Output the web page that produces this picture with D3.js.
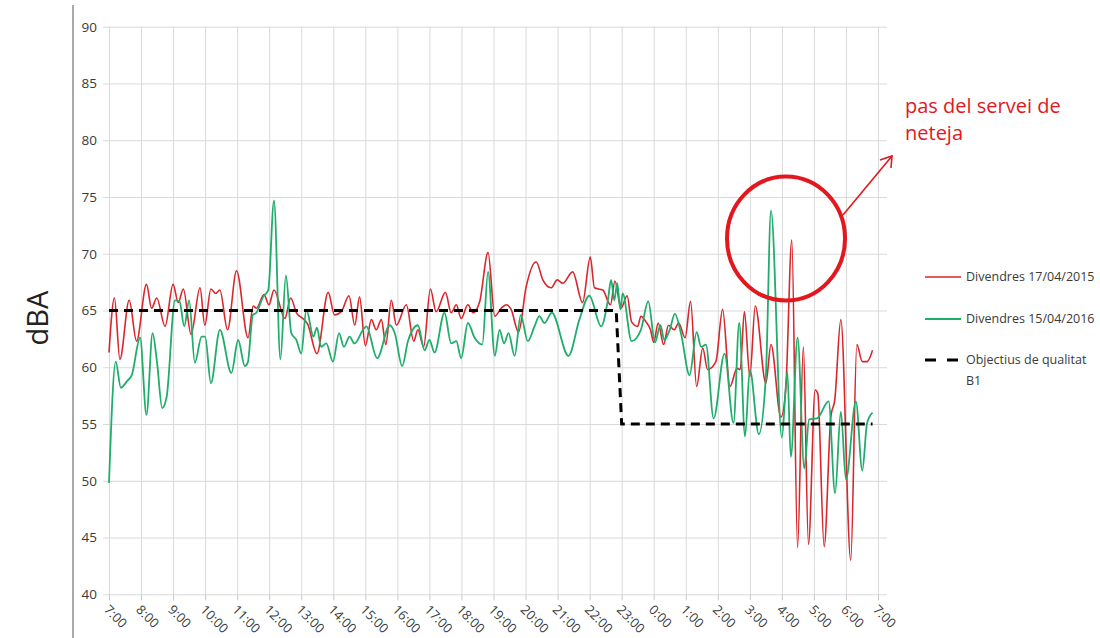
<!DOCTYPE html>
<html>
<head>
<meta charset="utf-8">
<script src="https://cdn.jsdelivr.net/npm/d3@7"></script>
<style>
  body { margin: 0; background: #fff; }
  text { font-family: "Open Sans", "DejaVu Sans", sans-serif; }
</style>
</head>
<body>
<div id="chart"></div>
<script>
// hours counted from 7:00 (7) to 7:00 next day (31)
var hourLabels = ["7:00","8:00","9:00","10:00","11:00","12:00","13:00","14:00","15:00","16:00","17:00","18:00","19:00","20:00","21:00","22:00","23:00","0:00","1:00","2:00","3:00","4:00","5:00","6:00","7:00"];
var yTicks = [40, 45, 50, 55, 60, 65, 70, 75, 80, 85, 90];

// Divendres 17/04/2015
var redHours = [7.00,7.17,7.34,7.63,7.86,8.17,8.33,8.49,8.75,9.00,9.16,9.32,9.56,9.84,9.99,10.18,10.33,10.46,10.70,10.98,11.34,11.50,11.60,11.84,11.99,12.15,12.49,12.67,12.85,13.05,13.20,13.49,13.84,14.04,14.25,14.49,14.67,14.82,15.00,15.19,15.34,15.50,15.64,15.81,15.97,16.28,16.51,16.64,16.82,17.03,17.21,17.50,17.68,17.84,17.99,18.20,18.36,18.57,18.83,19.04,19.24,19.40,19.55,19.78,20.02,20.33,20.54,20.80,20.99,21.16,21.47,21.78,22.02,22.15,22.41,22.65,22.79,22.98,23.17,23.31,23.50,23.60,23.76,23.90,24.00,24.14,24.31,24.46,24.64,24.78,24.98,25.15,25.34,25.53,25.68,25.94,26.15,26.38,26.60,26.70,26.83,27.00,27.17,27.50,27.66,27.97,28.12,28.31,28.49,28.67,28.83,29.04,29.12,29.32,29.53,29.65,29.84,30.15,30.34,30.51,30.66,30.83];
var redValues = [61.3,66.1,60.7,65.9,62.3,67.3,65.2,66.1,63.6,67.3,65.7,66.9,62.9,67.0,63.7,66.9,66.5,66.8,63.3,68.5,62.6,65.4,65.2,66.4,65.5,66.8,64.3,66.1,64.8,64.3,63.8,61.2,66.6,64.6,64.9,66.3,63.7,66.2,61.9,64.2,63.3,64.2,62.0,65.9,63.7,65.5,62.3,63.3,61.8,66.9,64.9,66.6,64.8,65.5,64.3,65.5,64.8,65.8,70.1,64.5,65.2,65.5,65.1,63.1,67.1,69.3,67.7,67.0,67.7,67.4,68.4,65.7,69.7,67.0,66.8,65.5,67.6,65.2,66.3,64.0,63.6,64.5,64.0,63.3,62.2,63.9,62.0,63.7,63.3,63.9,62.6,65.8,58.3,61.7,59.8,60.5,65.1,58.3,59.9,59.8,64.9,59.2,65.4,58.6,62.0,55.6,58.0,71.2,44.1,61.8,44.4,58.0,57.7,44.2,55.7,57.1,64.2,43.0,62.0,60.5,60.5,61.5];

// Divendres 15/04/2016
var greenHours = [7.00,7.21,7.37,7.57,7.71,7.97,8.17,8.36,8.50,8.66,8.80,9.06,9.20,9.35,9.50,9.68,9.89,10.00,10.18,10.46,10.82,11.03,11.24,11.33,11.49,11.60,11.81,11.97,12.15,12.35,12.52,12.69,12.85,13.00,13.16,13.38,13.49,13.62,13.78,13.99,14.18,14.33,14.51,14.66,14.93,15.03,15.37,15.76,15.92,16.15,16.33,16.64,16.85,17.00,17.16,17.47,17.68,17.84,17.99,18.20,18.41,18.65,18.83,19.04,19.19,19.33,19.47,19.66,19.85,20.07,20.28,20.43,20.59,20.82,21.34,21.68,21.99,22.36,22.57,22.67,22.77,22.86,22.96,23.03,23.31,23.60,23.83,24.04,24.21,24.33,24.50,24.66,24.85,25.12,25.34,25.48,25.63,25.87,26.21,26.49,26.67,26.85,27.00,27.28,27.50,27.66,28.00,28.17,28.28,28.49,28.70,28.85,29.10,29.46,29.66,29.84,30.00,30.31,30.51,30.66,30.83];
var greenValues = [49.8,60.5,58.2,58.8,59.3,62.6,55.8,63.0,60.4,56.4,57.4,65.9,65.8,63.6,65.9,60.4,62.7,62.7,58.6,63.3,59.5,62.4,60.1,60.4,64.6,64.8,66.2,66.8,74.7,60.7,68.1,63.0,62.4,61.2,65.1,62.7,63.5,61.8,62.1,60.5,63.0,61.8,62.7,62.1,63.3,63.6,60.8,63.7,63.0,60.1,62.3,63.7,61.5,62.4,61.3,64.8,62.1,62.3,60.8,63.9,62.6,62.0,68.4,61.0,63.3,62.1,63.0,61.0,64.6,62.3,63.6,64.5,63.9,64.8,61.0,64.2,66.3,63.6,65.9,67.7,65.9,67.4,65.1,66.5,62.3,63.3,65.8,62.2,63.7,62.4,63.3,64.7,63.0,59.3,63.1,61.8,62.0,55.5,61.2,55.1,63.9,53.9,59.8,54.1,59.2,73.8,53.8,59.6,52.1,62.6,51.1,55.4,55.5,57.0,48.9,56.1,50.1,57.0,50.9,55.1,56.0];

// Objectius de qualitat B1
var objectiveHours = [7.00, 22.83, 23.00, 30.83];
var objectiveValues = [65, 65, 55, 55];

var seriesNames = ["Divendres 17/04/2015", "Divendres 15/04/2016", "Objectius de qualitat", "B1"];
var noteLines = ["pas del servei de", "neteja"];

var width = 1100, height = 638;
var plotLeft = 109, plotRight = 878, plotTop = 26.7, plotBottom = 594.3;

var svg = d3.select("#chart").append("svg")
    .attr("width", width)
    .attr("height", height);

var x = d3.scaleLinear().domain([7, 31]).range([plotLeft, plotRight]);
var y = d3.scaleLinear().domain([40, 90]).range([plotBottom, plotTop]);

//left vertical rule
svg.append("line")
    .attr("x1", 73).attr("x2", 73)
    .attr("y1", 5).attr("y2", height)
    .attr("stroke", "#8c8c8c")
    .attr("stroke-width", 1.5);

//horizontal grid + y labels
var yAxis = svg.append("g")
    .attr("transform", "translate(103,0)")
    .call(d3.axisLeft(y).tickValues(yTicks).tickSize(-(887 - 103)).tickPadding(6));
yAxis.select(".domain").remove();
yAxis.selectAll("line").attr("stroke", "#d9d9d9");
yAxis.selectAll("text").attr("fill", "#3a3a3a").style("font-size", "13.5px");

//vertical grid
var hourTicks = hourLabels.map(function(d, i) { return 7 + i; });
var xGrid = svg.append("g")
    .attr("transform", "translate(0," + plotBottom + ")")
    .call(d3.axisBottom(x).tickValues(hourTicks).tickSizeInner(-(plotBottom - plotTop)).tickSizeOuter(0).tickFormat(""));
xGrid.select(".domain").remove();
xGrid.selectAll("line").attr("stroke", "#d9d9d9");

//x ticks and rotated labels
var xAxis = svg.append("g")
    .attr("transform", "translate(0," + plotBottom + ")")
    .call(d3.axisBottom(x).tickValues(hourTicks).tickSize(6)
        .tickFormat(function(d, i) { return hourLabels[i]; }));
xAxis.select(".domain").remove();
xAxis.selectAll("line").attr("stroke", "#c8c8c8");
xAxis.selectAll("text")
    .attr("x", 0).attr("y", 0).attr("dy", "0.35em")
    .attr("transform", "translate(-3,13) rotate(45)")
    .style("text-anchor", "start")
    .style("font-size", "13px")
    .attr("fill", "#3a3a3a");

//y title
svg.append("text")
    .attr("transform", "translate(48,318) rotate(-90)")
    .attr("text-anchor", "middle")
    .attr("fill", "#222")
    .style("font-size", "29px")
    .text("dBA");

function line(hours, values) {
    return d3.line()
        .x(function(d, i) { return x(hours[i]); })
        .y(function(d) { return y(d); })
        .curve(d3.curveMonotoneX)(values);
}

var red = "#d8262c", green = "#1fad6c";

svg.append("path")
    .attr("d", line(redHours, redValues))
    .attr("fill", "none")
    .attr("stroke", red)
    .attr("stroke-width", 1.6);

svg.append("path")
    .attr("d", line(greenHours, greenValues))
    .attr("fill", "none")
    .attr("stroke", green)
    .attr("stroke-width", 1.8);

svg.append("path")
    .attr("d", d3.line()
        .x(function(d, i) { return x(objectiveHours[i]); })
        .y(function(d) { return y(d); })(objectiveValues))
    .attr("fill", "none")
    .attr("stroke", "#000")
    .attr("stroke-width", 3)
    .attr("stroke-dasharray", "9,6");

//legend
var lg = svg.append("g").attr("class", "legend");
lg.append("line").attr("x1", 925).attr("x2", 961).attr("y1", 277).attr("y2", 277)
    .attr("stroke", red).attr("stroke-width", 1.6);
lg.append("line").attr("x1", 925).attr("x2", 961).attr("y1", 319).attr("y2", 319)
    .attr("stroke", green).attr("stroke-width", 1.8);
lg.append("line").attr("x1", 925).attr("x2", 961).attr("y1", 360).attr("y2", 360)
    .attr("stroke", "#000").attr("stroke-width", 3).attr("stroke-dasharray", "11,11");
[[277, seriesNames[0]], [319, seriesNames[1]], [360, seriesNames[2]], [381, seriesNames[3]]].forEach(function(d) {
    lg.append("text")
        .attr("x", 966).attr("y", d[0])
        .attr("dy", "0.35em")
        .attr("fill", "#3a3a3a")
        .style("font-size", "12.5px")
        .text(d[1]);
});

//annotation
var noteColor = "#e3171e";
svg.append("ellipse")
    .attr("cx", 786).attr("cy", 238.5)
    .attr("rx", 59).attr("ry", 62)
    .attr("fill", "none")
    .attr("stroke", noteColor)
    .attr("stroke-width", 4);

svg.append("line")
    .attr("x1", 843).attr("y1", 215)
    .attr("x2", 892).attr("y2", 156)
    .attr("stroke", noteColor).attr("stroke-width", 1.6);
svg.append("path")
    .attr("d", "M880,160 L892,156 L891,168")
    .attr("fill", "none")
    .attr("stroke", noteColor).attr("stroke-width", 1.6);

noteLines.forEach(function(t, i) {
    svg.append("text")
        .attr("x", 905).attr("y", 113 + i * 27)
        .attr("fill", noteColor)
        .style("font-size", "20px")
        .text(t);
});
</script>
</body>
</html>
